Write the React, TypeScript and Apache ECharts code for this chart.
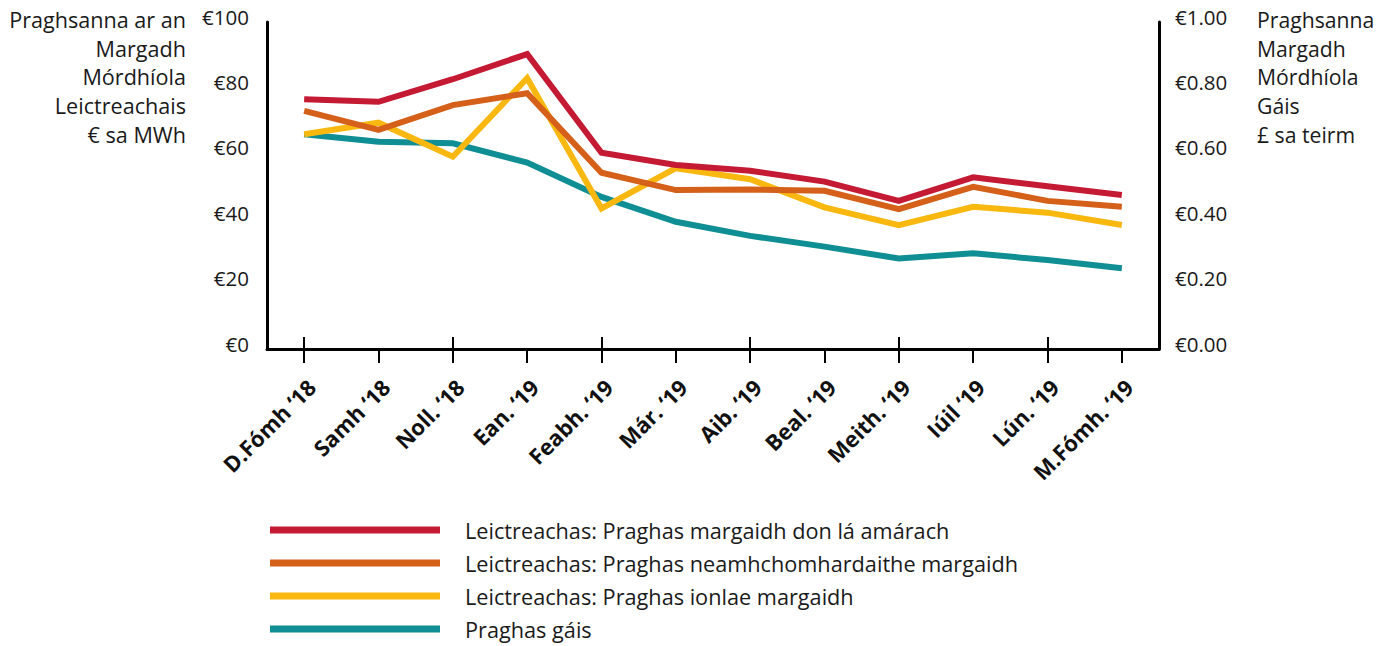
import React, { useEffect, useRef } from "react";
import * as echarts from "echarts";

const months = [
  "D.Fómh ‘18", "Samh ‘18", "Noll. ‘18", "Ean. ‘19", "Feabh. ‘19", "Már. ‘19",
  "Aib. ‘19", "Beal. ‘19", "Meith. ‘19", "Iúil ‘19", "Lún. ‘19", "M.Fómh. ‘19",
];
const dayAhead = [76.4, 75.6, 82.5, 90.2, 60.0, 56.3, 54.5, 51.2, 45.3, 52.5, 49.8, 47.1];
const imbalance = [72.8, 67.0, 74.6, 78.2, 53.9, 48.6, 48.8, 48.4, 42.8, 49.6, 45.3, 43.5];
const intraday = [65.7, 69.2, 58.8, 82.8, 43.0, 55.3, 51.9, 43.3, 37.9, 43.5, 41.7, 37.9];
const gas = [0.657, 0.634, 0.629, 0.570, 0.465, 0.389, 0.346, 0.313, 0.277, 0.293, 0.272, 0.247];

const seriesNames = [
  "Leictreachas: Praghas margaidh don lá amárach",
  "Leictreachas: Praghas neamhchomhardaithe margaidh",
  "Leictreachas: Praghas ionlae margaidh",
  "Praghas gáis",
];
const colors = ["#C41A34", "#D4601A", "#F9B80F", "#0F8E94"];
const leftTitle = "Praghsanna ar an\nMargadh\nMórdhíola\nLeictreachais\n€ sa MWh";
const rightTitle = "Praghsanna\nMargadh\nMórdhíola\nGáis\n£ sa teirm";

const FONT = "Open Sans";

export default function App() {
  const ref = useRef<HTMLDivElement>(null);
  useEffect(() => {
    if (!ref.current) return;
    const chart = echarts.init(ref.current, null, { renderer: "svg" });
    const lineSeries = (name: string, data: number[], color: string, yAxisIndex: number) => ({
      name,
      type: "line",
      data,
      yAxisIndex,
      symbol: "none",
      lineStyle: { color, width: 6, join: "miter", cap: "butt" },
      itemStyle: { color },
    });
    const yLabel = {
      fontFamily: FONT,
      fontSize: 20.5,
      color: "#1a1a1a",
      verticalAlign: "bottom",
      lineHeight: 11,
    };
    chart.setOption({
      animation: false,
      textStyle: { fontFamily: FONT },
      grid: { left: 267, right: 224, top: 22, bottom: 297 },
      legend: {
        orient: "vertical",
        left: 270,
        top: 518,
        padding: 0,
        icon: "rect",
        itemWidth: 170,
        itemHeight: 7,
        itemGap: 9,
        data: seriesNames,
        textStyle: {
          fontFamily: FONT,
          fontSize: 21.7,
          color: "#1a1a1a",
          lineHeight: 24,
          padding: [0, 0, 0, 20],
        },
      },
      xAxis: [
        {
          type: "category",
          data: months,
          boundaryGap: true,
          axisLine: { show: true, lineStyle: { color: "#000", width: 3 } },
          axisTick: { show: true, alignWithLabel: true, length: 14, lineStyle: { color: "#000", width: 2 } },
          axisLabel: {
            interval: 0,
            rotate: 45,
            margin: 27,
            verticalAlign: "top",
            lineHeight: 20,
            fontFamily: FONT,
            fontWeight: "bold",
            fontSize: 22,
            color: "#111",
          },
        },
        {
          type: "category",
          data: months,
          position: "bottom",
          boundaryGap: true,
          axisLine: { show: false },
          axisTick: { show: true, inside: true, alignWithLabel: true, length: 12, lineStyle: { color: "#000", width: 2 } },
          axisLabel: { show: false },
        },
      ],
      yAxis: [
        {
          type: "value",
          min: 0,
          max: 100,
          interval: 20,
          position: "left",
          axisLine: { show: true, lineStyle: { color: "#000", width: 3 } },
          axisTick: { show: false },
          splitLine: { show: false },
          axisLabel: { ...yLabel, formatter: (v: number) => "€" + v, margin: 18 },
        },
        {
          type: "value",
          min: 0,
          max: 1,
          interval: 0.2,
          position: "right",
          axisLine: { show: true, lineStyle: { color: "#000", width: 3 } },
          axisTick: { show: false },
          splitLine: { show: false },
          axisLabel: { ...yLabel, formatter: (v: number) => "€" + v.toFixed(2), margin: 16 },
        },
      ],
      graphic: [
        {
          type: "text",
          x: 186,
          y: 5,
          style: {
            text: leftTitle,
            fontFamily: FONT,
            fontSize: 21.6,
            lineHeight: 28.7,
            fill: "#1a1a1a",
            align: "right",
            verticalAlign: "top",
          },
        },
        {
          type: "text",
          x: 1257,
          y: 5,
          style: {
            text: rightTitle,
            fontFamily: FONT,
            fontSize: 21.2,
            lineHeight: 28.7,
            fill: "#1a1a1a",
            align: "left",
            verticalAlign: "top",
          },
        },
      ],
      series: [
        lineSeries(seriesNames[3], gas, colors[3], 1),
        lineSeries(seriesNames[2], intraday, colors[2], 0),
        lineSeries(seriesNames[1], imbalance, colors[1], 0),
        lineSeries(seriesNames[0], dayAhead, colors[0], 0),
      ],
    });
    return () => chart.dispose();
  }, []);
  return (
    <div
      ref={ref}
      style={{ position: "fixed", left: 0, top: 0, width: 1383, height: 646, background: "#fff" }}
    />
  );
}
